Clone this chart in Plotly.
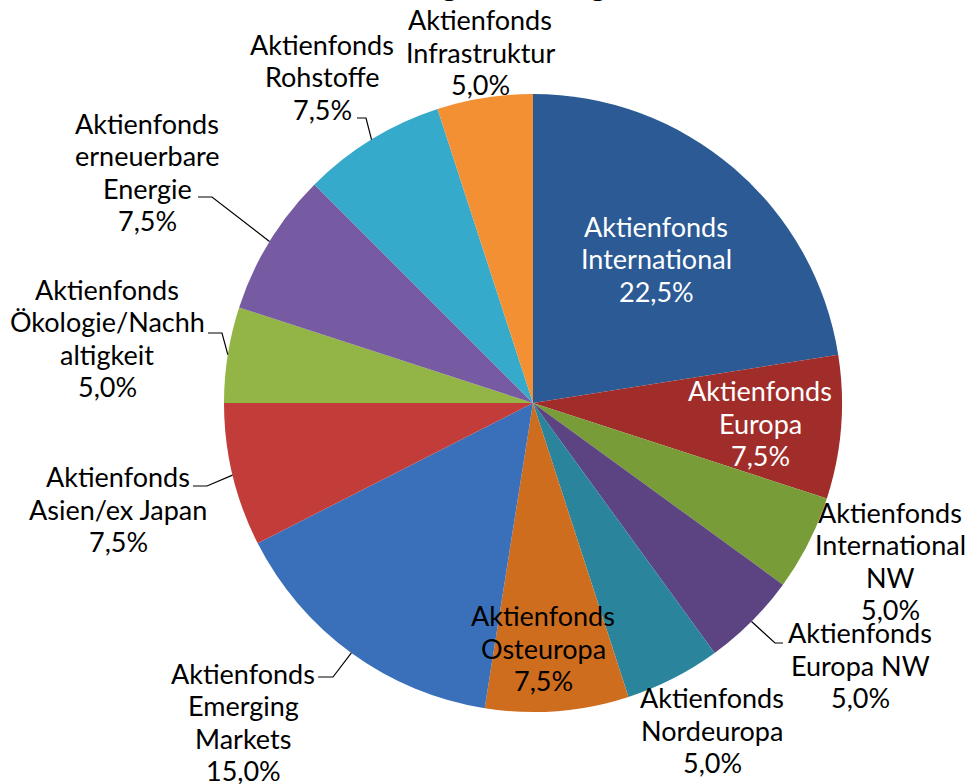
import math
import plotly.graph_objects as go

# ---------------- data ----------------
categories = [
    "Aktienfonds International",
    "Aktienfonds Europa",
    "Aktienfonds International NW",
    "Aktienfonds Europa NW",
    "Aktienfonds Nordeuropa",
    "Aktienfonds Osteuropa",
    "Aktienfonds Emerging Markets",
    "Aktienfonds Asien/ex Japan",
    "Aktienfonds Ökologie/Nachhaltigkeit",
    "Aktienfonds erneuerbare Energie",
    "Aktienfonds Rohstoffe",
    "Aktienfonds Infrastruktur",
]
values = [22.5, 7.5, 5.0, 5.0, 5.0, 7.5, 15.0, 7.5, 5.0, 7.5, 7.5, 5.0]
label_lines = [
    ["Aktienfonds", "International"],
    ["Aktienfonds", "Europa"],
    ["Aktienfonds", "International", "NW"],
    ["Aktienfonds", "Europa NW"],
    ["Aktienfonds", "Nordeuropa"],
    ["Aktienfonds", "Osteuropa"],
    ["Aktienfonds", "Emerging", "Markets"],
    ["Aktienfonds", "Asien/ex Japan"],
    ["Aktienfonds", "Ökologie/Nachh", "altigkeit"],
    ["Aktienfonds", "erneuerbare", "Energie"],
    ["Aktienfonds", "Rohstoffe"],
    ["Aktienfonds", "Infrastruktur"],
]
title_text = "Fondsgewichtung"

# ---------------- styles / layout ----------------
colors = ["#2B5A94", "#A12D2A", "#789C38", "#5C4382", "#2A859C", "#CF6D1F",
          "#3A70BA", "#C23D39", "#92B546", "#765AA2", "#35AACB", "#F39034"]
text_colors = ["white", "white", "black", "black", "black", "black",
               "black", "black", "black", "black", "black", "black"]
# label block centres (pixels)
label_pos = [(656, 259), (760, 423), (890, 561), (860, 665), (712, 730), (543, 648),
             (243, 722), (118, 509), (107, 338), (147, 172), (322, 77), (480, 52)]
# leader lines: index -> (elbow px, end px)
leaders = {3: ((775, 643), (783, 643)),
           6: ((333, 677), (318, 677)),
           7: ((207, 486), (193, 486)),
           8: ((222, 333), (208, 333)),
           9: ((212, 197), (198, 197)),
           10: ((366, 118), (357, 118))}

W, H = 968, 784
CX, CY, R = 533, 403, 309
FONT = "Lato"
FS = 27
LINE = 32.3


def px(x):
    return x / W


def py(y):
    return 1 - y / H


fig = go.Figure(go.Pie(
    labels=categories, values=values, sort=False, direction="clockwise",
    rotation=0, textinfo="none", hoverinfo="label+percent",
    marker=dict(colors=colors, line=dict(width=0)),
    domain=dict(x=[(CX - R) / W, (CX + R) / W], y=[(H - CY - R) / H, (H - CY + R) / H]),
    showlegend=False,
))

annotations = []
total = sum(values)
for i, (lines, v) in enumerate(zip(label_lines, values)):
    pct = f"{v / total * 100:.1f}".replace(".", ",") + "%"
    all_lines = lines + [pct]
    n = len(all_lines)
    x, y = label_pos[i]
    for j, t in enumerate(all_lines):
        ly = y + (j - (n - 1) / 2) * LINE
        annotations.append(dict(
            text=t, x=px(x), y=py(ly), xref="paper", yref="paper",
            xanchor="center", yanchor="middle", showarrow=False, align="center",
            font=dict(family=FONT, size=FS, color=text_colors[i])))

annotations.append(dict(
    text="<b>" + title_text + "</b>", x=px(481), y=1, xref="paper", yref="paper",
    xanchor="center", yanchor="bottom", yshift=-5.5, showarrow=False,
    font=dict(family=FONT, size=32, color="black")))

shapes = []
cum = 0.0
for i, v in enumerate(values):
    mid = (cum + v / 2) / total * 2 * math.pi
    cum += v
    if i in leaders:
        sx = CX + R * math.sin(mid)
        sy = CY - R * math.cos(mid)
        (ex, ey), (fx, fy) = leaders[i]
        path = f"M {px(sx)},{py(sy)} L {px(ex)},{py(ey)} L {px(fx)},{py(fy)}"
        shapes.append(dict(type="path", path=path, xref="paper", yref="paper",
                           line=dict(color="black", width=1.2)))

fig.update_layout(
    width=W, height=H, margin=dict(l=0, r=0, t=0, b=0),
    paper_bgcolor="white", plot_bgcolor="white",
    annotations=annotations, shapes=shapes,
)

fig.write_html("out.html", config={"displayModeBar": False},
               post_script="document.body.style.margin='0';"
                           "document.body.style.overflow='hidden';")
